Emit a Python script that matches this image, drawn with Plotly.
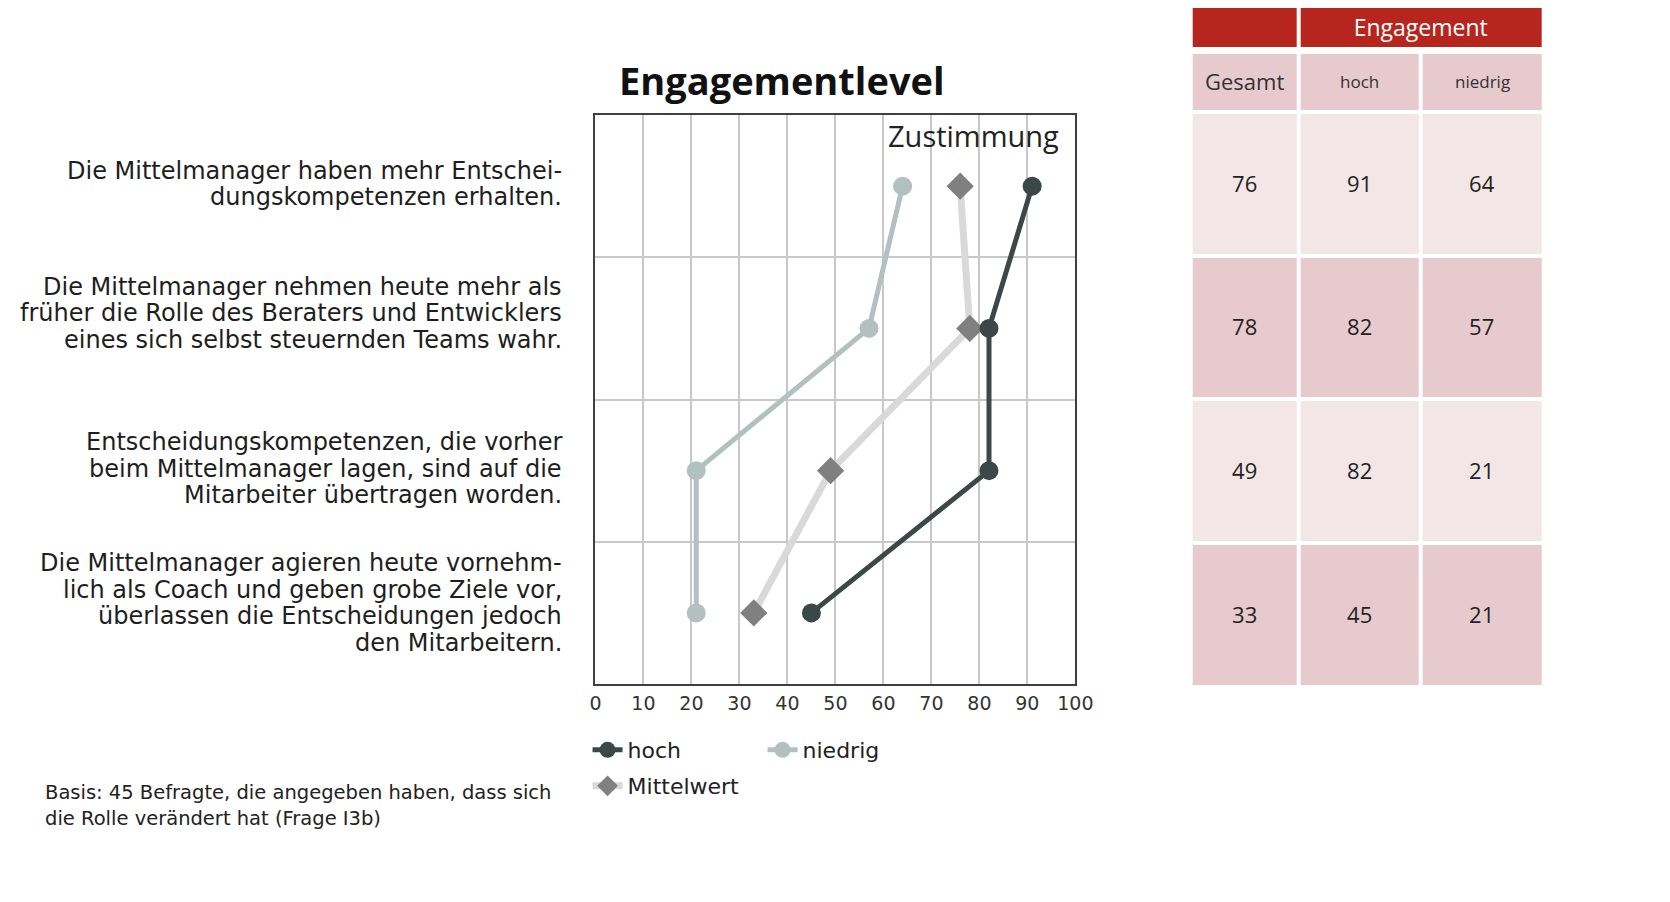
import plotly.graph_objects as go

# page body keeps an 8px margin, so the figure is laid out in reference pixels minus 8
OFF = 8
W, H = 1670 - 2 * OFF, 902 - 2 * OFF

# data
statements = [
    ["Die Mittelmanager haben mehr Entschei-", "dungskompetenzen erhalten."],
    ["Die Mittelmanager nehmen heute mehr als",
     "früher die Rolle des Beraters und Entwicklers",
     "eines sich selbst steuernden Teams wahr."],
    ["Entscheidungskompetenzen, die vorher",
     "beim Mittelmanager lagen, sind auf die",
     "Mitarbeiter übertragen worden."],
    ["Die Mittelmanager agieren heute vornehm-",
     "lich als Coach und geben grobe Ziele vor,",
     "überlassen die Entscheidungen jedoch",
     "den Mitarbeitern."],
]
hoch = [91, 82, 82, 45]
niedrig = [64, 57, 21, 21]
mittelwert = [76, 78, 49, 33]

table_cols = ["Gesamt", "hoch", "niedrig"]
gesamt_vals = [76, 78, 49, 33]
hoch_vals = [91, 82, 82, 45]
niedrig_vals = [64, 57, 21, 21]

footnote = ["Basis: 45 Befragte, die angegeben haben, dass sich",
            "die Rolle verändert hat (Frage I3b)"]

FONT = "Open Sans"
LABEL_FONT = "DejaVu Sans"
C_HOCH = "#3c4848"
C_NIEDRIG = "#b2c0c0"
C_MW_LINE = "#d9d9d9"
C_MW_MARK = "#808080"
C_RED = "#b7251f"
C_DARK = "#e6cacd"
C_LIGHT = "#f2e6e6"
LINE_PITCH = 26.5


def px_x(p):
    return (p - OFF) / W


def px_y(p):
    return 1 - (p - OFF) / H


rows = list(range(len(statements)))

fig = go.Figure()

fig.add_trace(go.Scatter(
    x=niedrig, y=rows, mode="lines+markers", name="niedrig",
    line=dict(color=C_NIEDRIG, width=5),
    marker=dict(symbol="circle", size=19, color=C_NIEDRIG),
    legend="legend", legendrank=2,
))
fig.add_trace(go.Scatter(
    x=mittelwert, y=rows, mode="lines+markers", name="Mittelwert",
    line=dict(color=C_MW_LINE, width=7),
    marker=dict(symbol="diamond", size=21, color=C_MW_MARK),
    legend="legend2",
))
fig.add_trace(go.Scatter(
    x=hoch, y=rows, mode="lines+markers", name="hoch",
    line=dict(color=C_HOCH, width=5),
    marker=dict(symbol="circle", size=19, color=C_HOCH),
    legend="legend", legendrank=1,
))

# table drawn as heatmap bricks: header row + 4 data rows
col_edges = [0, 109.5, 233.5, 358]
row_edges = [52, 111.5, 255.5, 399, 543, 687]
body_z = [[1, 1, 1]]
body_text = [["", "", ""]]
for i in range(len(gesamt_vals)):
    shade = 0 if i % 2 == 0 else 1
    body_z.append([shade, shade, shade])
    body_text.append([str(gesamt_vals[i]), str(hoch_vals[i]), str(niedrig_vals[i])])

cscale = [[0, C_LIGHT], [0.5, C_DARK], [1, C_RED]]
fig.add_trace(go.Heatmap(
    x=col_edges, y=row_edges, z=body_z, text=body_text,
    texttemplate="%{text}", textfont=dict(family=FONT, size=22, color="#222222"),
    colorscale=cscale, zmin=0, zmax=2, showscale=False, hoverinfo="skip",
    xgap=4, ygap=4, xaxis="x2", yaxis="y2",
))
fig.add_trace(go.Heatmap(
    x=[0, 109.5, 358], y=[8, 47], z=[[2, 2]], text=[["", "Engagement"]],
    texttemplate="%{text}", textfont=dict(family=FONT, size=23, color="white"),
    colorscale=cscale, zmin=0, zmax=2, showscale=False, hoverinfo="skip",
    xgap=4, ygap=0, xaxis="x2", yaxis="y2",
))

annotations = []
# statement labels, one annotation per line to keep the tight line pitch
label_lift = [2, 15, 2, 10]
for i, lines in enumerate(statements):
    n = len(lines)
    for k, line in enumerate(lines):
        offset = (k - (n - 1) / 2) * LINE_PITCH
        annotations.append(dict(
            x=px_x(566), xref="paper", xanchor="right", y=i, yref="y", yanchor="middle",
            text=line, showarrow=False, yshift=label_lift[i] - offset,
            font=dict(family=LABEL_FONT, size=24, color="#1e1e1e"),
        ))

for k, line in enumerate(footnote):
    annotations.append(dict(
        x=px_x(37), xref="paper", xanchor="left", y=px_y(792 + k * 26), yref="paper",
        yanchor="middle", text=line, showarrow=False,
        font=dict(family=LABEL_FONT, size=19.5, color="#222222"),
    ))

header_sizes = [22, 17, 17]
header_centers = [54.75, 171.5, 295.75]
for name, cx, fs in zip(table_cols, header_centers, header_sizes):
    annotations.append(dict(
        x=cx, xref="x2", y=81, yref="y2", xanchor="center", yanchor="middle",
        text=name, showarrow=False,
        font=dict(family=FONT, size=fs, color="#333333"),
    ))

annotations += [
    dict(x=px_x(787), y=px_y(80), xref="paper", yref="paper", xanchor="center", yanchor="middle",
         text="<b>Engagementlevel</b>",
         showarrow=False, font=dict(family=FONT, size=38, color="#111111")),
    dict(x=px_x(1070), y=px_y(136), xref="paper", yref="paper", xanchor="right", yanchor="middle",
         text="Zustimmung", showarrow=False, font=dict(family=FONT, size=29, color="#222222")),
]

fig.update_layout(
    width=W, height=H,
    margin=dict(l=0, r=0, t=0, b=0),
    paper_bgcolor="white", plot_bgcolor="white",
    font=dict(family=FONT, color="#222222"),
    xaxis=dict(
        domain=[px_x(598), px_x(1085)], range=[0, 100], dtick=10,
        showgrid=True, gridcolor="#c8c8c8", gridwidth=2, zeroline=False,
        showline=True, mirror=True, linecolor="#404040", linewidth=1.5,
        tickfont=dict(family=LABEL_FONT, size=19, color="#333333"), ticklabelstandoff=1,
    ),
    yaxis=dict(
        domain=[px_y(684), px_y(115)], range=[3.5, -0.5],
        tickvals=[0.5, 1.5, 2.5], showticklabels=False,
        showgrid=True, gridcolor="#c8c8c8", gridwidth=2, zeroline=False,
        showline=True, mirror=True, linecolor="#404040", linewidth=1.5,
    ),
    xaxis2=dict(domain=[px_x(1202), px_x(1560)], range=[0, 358], visible=False),
    yaxis2=dict(domain=[px_y(687), 1], range=[687, 8], visible=False),
    legend=dict(
        orientation="h", x=px_x(590), y=px_y(729), xanchor="left", yanchor="top",
        font=dict(family=LABEL_FONT, size=22, color="#222222"), entrywidth=130,
        traceorder="normal",
    ),
    legend2=dict(
        orientation="h", x=px_x(590), y=px_y(765), xanchor="left", yanchor="top",
        font=dict(family=LABEL_FONT, size=22, color="#222222"),
    ),
    annotations=annotations,
    showlegend=True,
)

fig.write_html("out.html")
